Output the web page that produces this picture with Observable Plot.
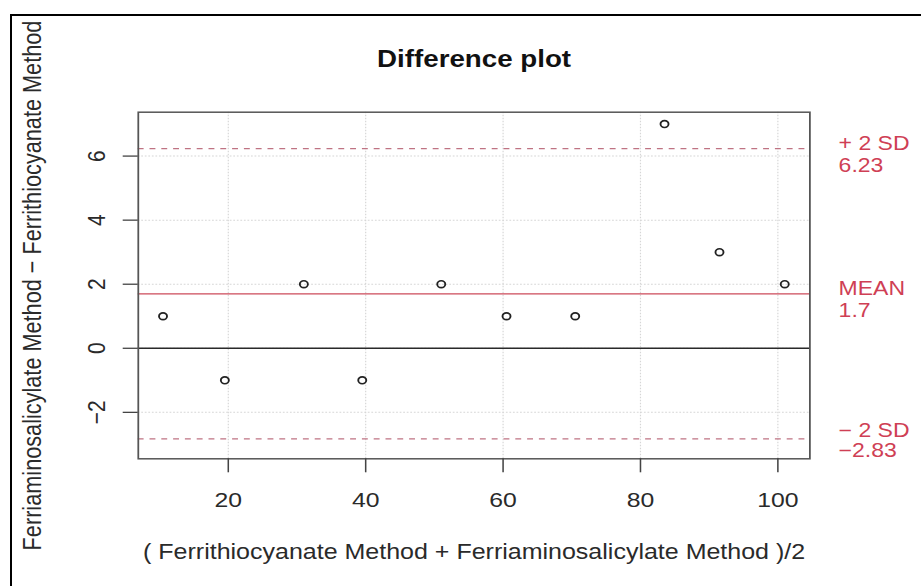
<!DOCTYPE html>
<html>
<head>
<meta charset="utf-8">
<script src="https://cdn.jsdelivr.net/npm/d3@7"></script>
<script src="https://cdn.jsdelivr.net/npm/@observablehq/plot@0.6"></script>
<style>
  html, body { margin: 0; padding: 0; background: #fff; }
  #wrap { position: relative; width: 921px; height: 586px; overflow: hidden; background: #fff; }
  #frame { position: absolute; left: 10px; top: 14px; right: -20px; bottom: -20px;
           border-left: 2px solid #000; border-top: 2px solid #000; pointer-events: none; }
  #wrap svg { position: absolute; left: 0; top: 0; }
</style>
</head>
<body>
<div id="wrap"><div id="frame"></div></div>
<script>
// ---- data ----
const means = [10.5, 19.5, 31, 39.5, 51, 60.5, 70.5, 83.5, 91.5, 101];
const diffs = [1, -1, 2, -1, 2, 1, 1, 7, 3, 2];
const xTicks = [20, 40, 60, 80, 100];
const yTicks = [-2, 0, 2, 4, 6];
const limitNames = ["+ 2 SD", "MEAN", "\u2212 2 SD"];
const limitValues = [6.23, 1.7, -2.83];
const limitTexts = ["6.23", "1.7", "\u22122.83"];
const titleText = "Difference plot";
const xLabel = "( Ferrithiocyanate Method + Ferriaminosalicylate Method )/2";
const yLabel = "Ferriaminosalicylate Method \u2212 Ferrithiocyanate Method";

// ---- layout ----
const S = 1.18;               // horizontal stretch of the reference image
const W = 921 / S, H = 586;
const plotL = 137.7, plotR = 809.3, plotT = 111.7, plotB = 458.3;
const F = 21;
const FL = 19.5;
const red = "#cf3f55";

const points = means.map((m, i) => ({m, d: diffs[i]}));
const fmt = d => String(d).replace("-", "\u2212");

const labelMarks = [];
limitValues.forEach((v, i) => {
  const gap = i === 2 ? 20 : 22;
  const lift = i === 2 ? -1.5 : 1;
  labelMarks.push(Plot.text([v], {y: d => d, text: () => limitNames[i], frameAnchor: "right",
    textAnchor: "start", lineAnchor: "bottom", dx: (838 - plotR) / S, dy: lift, fill: red, fontSize: FL}));
  labelMarks.push(Plot.text([v], {y: d => d, text: () => limitTexts[i], frameAnchor: "right",
    textAnchor: "start", lineAnchor: "bottom", dx: (838 - plotR) / S, dy: lift + gap, fill: red, fontSize: FL}));
});

const chart = Plot.plot({
  width: W,
  height: H,
  marginLeft: plotL / S,
  marginRight: (921 - plotR) / S,
  marginTop: plotT,
  marginBottom: H - plotB,
  x: {domain: [6.9, 104.66], axis: null},
  y: {domain: [-3.45, 7.37], axis: null},
  style: {fontFamily: "'Liberation Sans', Arial, Helvetica, sans-serif", fontSize: F + "px",
          color: "#2a2a2a", background: "transparent", overflow: "visible"},
  marks: [
    Plot.ruleX(xTicks, {x: d => d, stroke: "#d6d6d6", strokeDasharray: "1.5,1.5"}),
    Plot.ruleY(yTicks, {y: d => d, stroke: "#d6d6d6", strokeDasharray: "1.5,1.5"}),
    Plot.ruleY([0], {y: d => d, stroke: "#2a2a2a", strokeWidth: 1.4}),
    Plot.ruleY([limitValues[1]], {y: d => d, stroke: "#cc4a5a", strokeWidth: 1.1}),
    Plot.ruleY([limitValues[0], limitValues[2]], {y: d => d, stroke: "#bf7383", strokeWidth: 1.2, strokeDasharray: "5,5"}),
    Plot.frame({stroke: "#555", strokeWidth: 1.5}),
    Plot.axisX(xTicks, {tickSize: 14, tickPadding: 19, tickFormat: fmt, label: null, stroke: "#444", strokeWidth: 1.3}),
    Plot.axisY(yTicks, {tickSize: 15 / S, tickFormat: () => "", label: null, stroke: "#444", strokeWidth: 1.3}),
    Plot.text(yTicks, {y: d => d, text: fmt, frameAnchor: "left", dx: (104 - plotL) / S,
      rotate: -90, textAnchor: "middle", lineAnchor: "bottom", fill: "#2a2a2a"}),
    Plot.dot(points, {x: "m", y: "d", r: 3.4, stroke: "#222", strokeWidth: 1.6, fill: "none"}),
    ...labelMarks,
    Plot.text([titleText], {text: d => d, frameAnchor: "top", dy: 66 - plotT, lineAnchor: "bottom",
      fontWeight: "bold", fontSize: 23.5, fill: "#111"}),
    Plot.text([xLabel], {text: d => d, frameAnchor: "bottom", dy: 558.5 - plotB, lineAnchor: "bottom",
      fill: "#2a2a2a", fontSize: 21.2}),
    Plot.text([yLabel], {text: d => d, frameAnchor: "left", dx: (40 - plotL) / S, rotate: -90,
      textAnchor: "middle", lineAnchor: "bottom", fill: "#2a2a2a", fontSize: 21.7})
  ]
});

chart.setAttribute("viewBox", `0 0 ${W} ${H}`);
chart.setAttribute("preserveAspectRatio", "none");
chart.setAttribute("width", 921);
chart.setAttribute("height", 586);
chart.style.width = "921px";
chart.style.height = "586px";
chart.style.maxWidth = "none";
document.getElementById("wrap").prepend(chart);
</script>
</body>
</html>
